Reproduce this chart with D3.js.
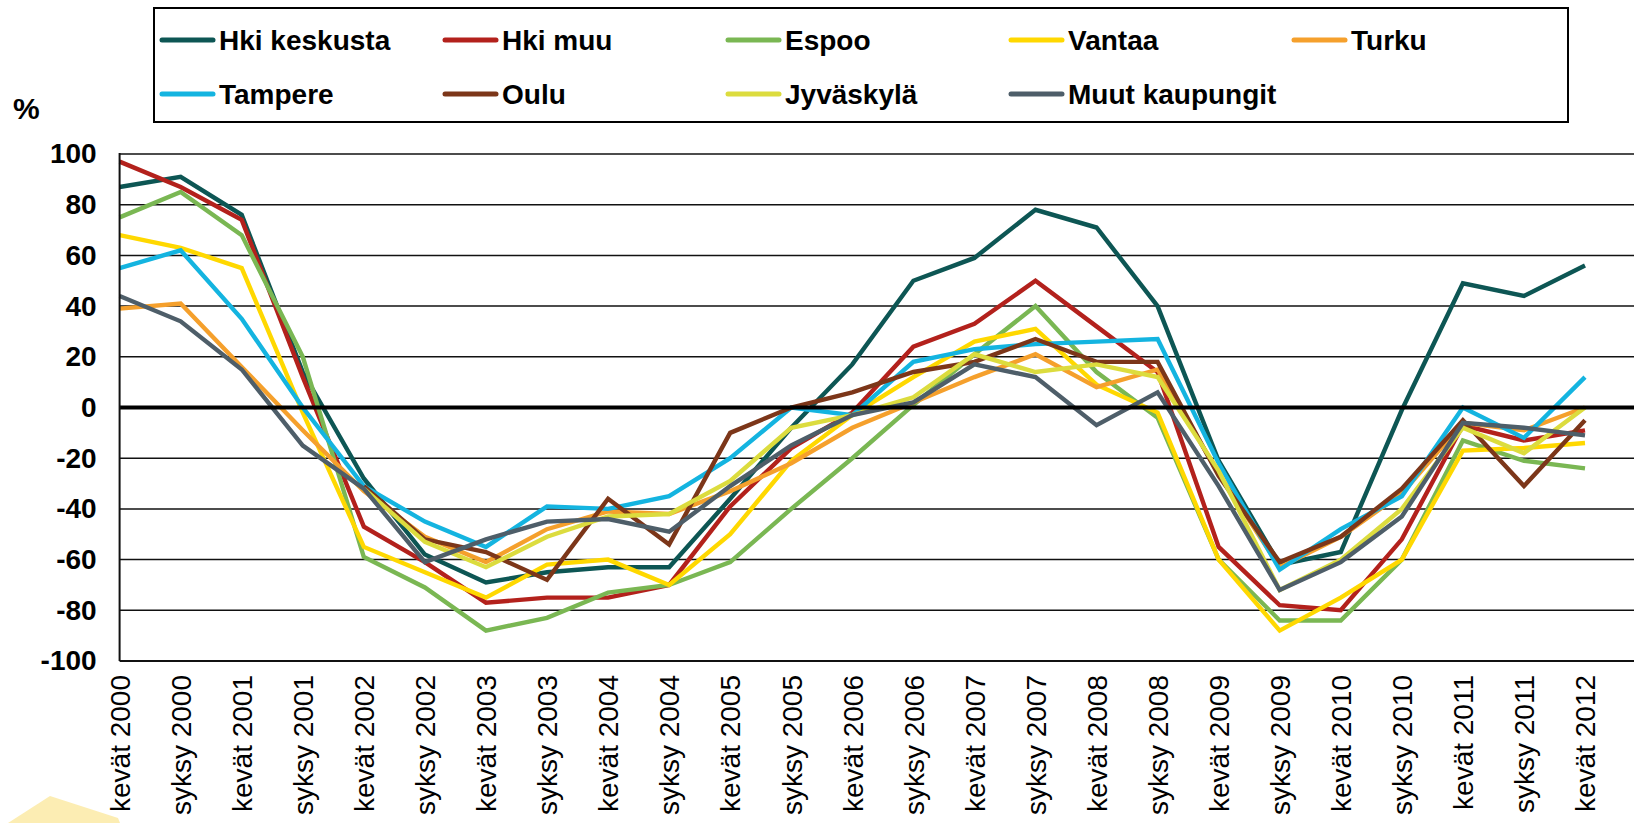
<!DOCTYPE html>
<html>
<head>
<meta charset="utf-8">
<script src="https://cdn.jsdelivr.net/npm/d3@7"></script>
<style>
html,body{margin:0;padding:0;background:#fff;}
svg{display:block;}
</style>
</head>
<body>
<svg id="chart" width="1634" height="823"></svg>
<script>
const categories = ["kevät 2000","syksy 2000","kevät 2001","syksy 2001","kevät 2002","syksy 2002","kevät 2003","syksy 2003","kevät 2004","syksy 2004","kevät 2005","syksy 2005","kevät 2006","syksy 2006","kevät 2007","syksy 2007","kevät 2008","syksy 2008","kevät 2009","syksy 2009","kevät 2010","syksy 2010","kevät 2011","syksy 2011","kevät 2012"];
const yTicks = [-100,-80,-60,-40,-20,0,20,40,60,80,100];

const hkiKeskusta = [87,91,76,14,-28,-58,-69,-65,-63,-63,-36,-8,17,50,59,78,71,40,-21,-62,-57,-1,49,44,56];
const hkiMuu      = [97,87,74,12,-47,-61,-77,-75,-75,-70,-39,-16,-2,24,33,50,32,14,-55,-78,-80,-52,-7,-13,-9];
const espoo       = [75,85,68,20,-59,-71,-88,-83,-73,-70,-61,-40,-20,1,21,40,14,-4,-60,-84,-84,-60,-13,-21,-24];
const vantaa      = [68,63,55,-2,-55,-65,-75,-62,-60,-70,-50,-21,-3,12,26,31,9,-2,-60,-88,-75,-60,-17,-16,-14];
const turku       = [39,41,16,-9,-33,-51,-61,-48,-41,-42,-33,-22,-8,2,12,21,8,15,-26,-63,-51,-34,-6,-9,0];
const tampere     = [55,62,35,0,-31,-45,-55,-39,-40,-35,-20,0,-3,18,23,25,26,27,-22,-64,-48,-35,0,-12,12];
const oulu        = [null,null,null,null,-31,-52,-57,-68,-36,-54,-10,0,6,14,18,27,18,18,-27,-61,-51,-32,-5,-31,-5];
const jyvaskyla   = [null,null,null,null,-32,-53,-63,-51,-43,-42,-29,-8,-3,4,21,14,17,12,-25,-72,-60,-40,-8,-18,0];
const muut        = [44,34,15,-15,-32,-61,-52,-45,-44,-49,-31,-15,-3,2,17,12,-7,6,-31,-72,-61,-43,-6,-8,-11];

const seriesNames  = ["Hki keskusta","Hki muu","Espoo","Vantaa","Turku","Tampere","Oulu","Jyväskylä","Muut kaupungit"];
const seriesValues = [hkiKeskusta,hkiMuu,espoo,vantaa,turku,tampere,oulu,jyvaskyla,muut];
const seriesColors = ["#0d5654","#b3211c","#7ab753","#ffd800","#f5a02c","#14b4e0","#7c3619","#dcdc3e","#4e5e69"];

const FONT = "'Liberation Sans', Arial, sans-serif";
const svg = d3.select("#chart");

// decorative faded shape bottom-left
svg.append("path")
  .attr("d","M8,823 L50,796 L118,818 L120,823 Z")
  .attr("fill","#fbe79a").attr("opacity",0.75);

const plotLeft = 119.6, lastX = 1585, plotRight = 1634, plotTop = 154, plotBottom = 661;
const x = d3.scalePoint().domain(categories).range([plotLeft, lastX]);
const y = d3.scaleLinear().domain([-100,100]).range([plotBottom, plotTop]);

// gridlines
svg.append("g").selectAll("line").data(yTicks.filter(d => d !== 0 && d !== -100)).join("line")
  .attr("x1", plotLeft).attr("x2", plotRight)
  .attr("y1", d => y(d)).attr("y2", d => y(d))
  .attr("stroke","#111").attr("stroke-width",1.5);

// y axis labels
const yAxis = svg.append("g").attr("transform",`translate(${plotLeft},0)`)
  .call(d3.axisLeft(y).tickValues(yTicks).tickSize(0).tickPadding(23).tickFormat(d => String(d)));
yAxis.select(".domain").remove();
yAxis.selectAll("text").attr("font-family",FONT).attr("font-size",28).attr("font-weight","bold").attr("fill","#000");

// x axis labels
const xAxis = svg.append("g").attr("transform",`translate(0,${plotBottom})`)
  .call(d3.axisBottom(x).tickSize(0));
xAxis.select(".domain").remove();
xAxis.selectAll("text")
  .attr("font-family",FONT).attr("font-size",28).attr("fill","#000")
  .attr("transform","rotate(-90)")
  .attr("text-anchor","end")
  .attr("x",-14).attr("y",0).attr("dy","0.35em");

// series lines
const line = d3.line()
  .defined(d => d !== null)
  .x((d,i) => x(categories[i]))
  .y(d => y(d));
seriesValues.forEach((vals, k) => {
  svg.append("path")
    .datum(vals)
    .attr("d", line)
    .attr("fill","none")
    .attr("stroke", seriesColors[k])
    .attr("stroke-width",4.4)
    .attr("stroke-linejoin","miter");
});

// axes lines
svg.append("line").attr("x1",plotLeft).attr("x2",plotRight).attr("y1",y(0)).attr("y2",y(0))
  .attr("stroke","#000").attr("stroke-width",4);
svg.append("line").attr("x1",plotLeft).attr("x2",plotRight).attr("y1",y(-100)).attr("y2",y(-100))
  .attr("stroke","#111").attr("stroke-width",2);
svg.append("line").attr("x1",plotLeft).attr("x2",plotLeft).attr("y1",plotTop-1).attr("y2",plotBottom)
  .attr("stroke","#111").attr("stroke-width",2);

// % label
svg.append("text").attr("x",13).attr("y",119).text("%")
  .attr("font-family",FONT).attr("font-size",30).attr("font-weight","bold").attr("fill","#000");

// legend
svg.append("rect").attr("x",154).attr("y",8).attr("width",1414).attr("height",114)
  .attr("fill","#fff").attr("stroke","#000").attr("stroke-width",2);
const legCols = 5, colW = 283, leg0x = 162, rowY = [40, 94];
const leg = svg.append("g").selectAll("g").data(seriesNames).join("g")
  .attr("transform",(d,i) => `translate(${leg0x + (i % legCols) * colW},${rowY[Math.floor(i / legCols)]})`);
leg.append("line").attr("x1",0).attr("x2",51).attr("y1",0).attr("y2",0)
  .attr("stroke",(d,i) => seriesColors[i]).attr("stroke-width",5).attr("stroke-linecap","round");
leg.append("text").attr("x",57).attr("y",0).attr("dy","0.36em").text(d => d)
  .attr("font-family",FONT).attr("font-size",28).attr("font-weight","bold").attr("fill","#000");
</script>
</body>
</html>
